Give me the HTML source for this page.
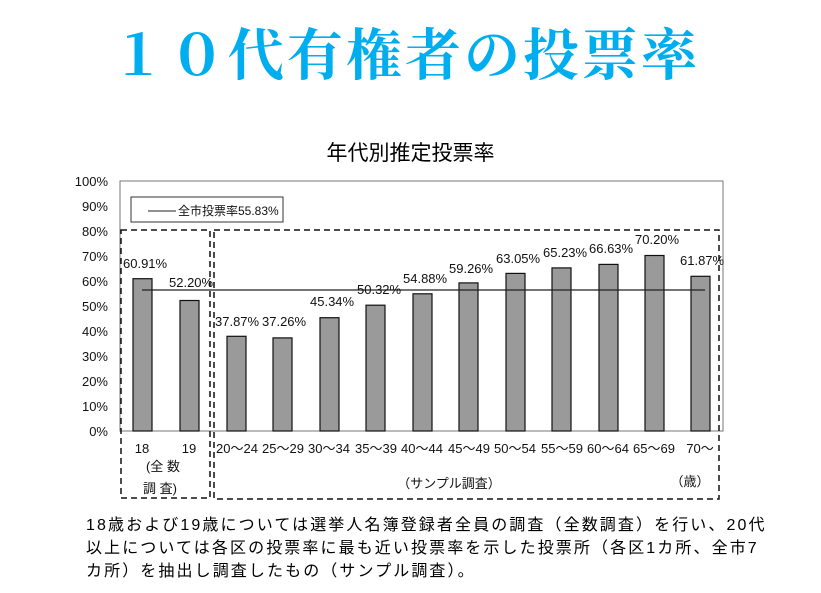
<!DOCTYPE html>
<html><head><meta charset="utf-8"><style>
html,body{margin:0;padding:0;background:#fff;}
body{width:821px;height:593px;position:relative;overflow:hidden;font-family:"Liberation Sans","Noto Sans CJK JP",sans-serif;}
.t{position:absolute;white-space:nowrap;}
</style></head><body>
<div class="t" style="left:110px;top:22px;font-family:'Liberation Serif','Noto Serif CJK SC',serif;font-weight:bold;font-size:56px;line-height:70px;color:#00aeef;letter-spacing:3px;">１０代有権者の投票率</div>
<div class="t" style="left:0;width:821px;top:140px;text-align:center;font-size:21px;line-height:28px;color:#000;">年代別推定投票率</div>
<svg width="821" height="593" style="position:absolute;left:0;top:0" font-family="Liberation Sans, Noto Sans CJK JP, sans-serif">
<rect x="120" y="181" width="603" height="250" fill="none" stroke="#777" stroke-width="1"/>
<g font-size="13" fill="#111" text-anchor="end">
<text x="108" y="436">0%</text><text x="108" y="411">10%</text><text x="108" y="386">20%</text><text x="108" y="361">30%</text><text x="108" y="336">40%</text><text x="108" y="311">50%</text><text x="108" y="286">60%</text><text x="108" y="261">70%</text><text x="108" y="236">80%</text><text x="108" y="211">90%</text><text x="108" y="186">100%</text>
</g>
<rect x="131" y="197" width="152" height="25" fill="#fff" stroke="#333"/>
<line x1="148" y1="211" x2="176" y2="211" stroke="#222"/>
<text x="178" y="215" font-size="12" fill="#111">全市投票率55.83%</text>
<rect x="121" y="230" width="89" height="268" fill="none" stroke="#111" stroke-width="1.5" stroke-dasharray="6,4"/>
<rect x="214" y="230" width="505" height="269" fill="none" stroke="#111" stroke-width="1.5" stroke-dasharray="6,4"/>
<g fill="#9a9a9a" stroke="#111" stroke-width="1.2">
<rect x="133" y="278.7" width="19" height="152.3"/>
<rect x="180" y="300.5" width="19" height="130.5"/>
<rect x="227" y="336.3" width="19" height="94.7"/>
<rect x="273" y="337.9" width="19" height="93.1"/>
<rect x="320" y="317.7" width="19" height="113.3"/>
<rect x="366" y="305.2" width="19" height="125.8"/>
<rect x="413" y="293.8" width="19" height="137.2"/>
<rect x="459" y="282.9" width="19" height="148.1"/>
<rect x="506" y="273.4" width="19" height="157.6"/>
<rect x="552" y="267.9" width="19" height="163.1"/>
<rect x="599" y="264.4" width="19" height="166.6"/>
<rect x="645" y="255.5" width="19" height="175.5"/>
<rect x="691" y="276.3" width="19" height="154.7"/>
</g>
<line x1="142" y1="290" x2="705" y2="290" stroke="#222" stroke-width="1.2"/>
<g font-size="13" fill="#111">
<text x="123" y="268">60.91%</text><text x="169" y="287">52.20%</text>
<text x="215" y="326">37.87%</text><text x="262" y="326">37.26%</text><text x="310" y="306">45.34%</text>
<text x="357" y="294">50.32%</text><text x="403" y="283">54.88%</text><text x="449" y="273">59.26%</text>
<text x="496" y="263">63.05%</text><text x="543" y="257">65.23%</text><text x="589" y="253">66.63%</text>
<text x="635" y="244">70.20%</text><text x="680" y="265">61.87%</text>
</g>
<g font-size="13" fill="#111" text-anchor="middle">
<text x="142" y="453">18</text><text x="189" y="453">19</text>
<text x="237" y="453">20～24</text><text x="283" y="453">25～29</text><text x="329" y="453">30～34</text>
<text x="376" y="453">35～39</text><text x="422" y="453">40～44</text><text x="469" y="453">45～49</text>
<text x="515" y="453">50～54</text><text x="562" y="453">55～59</text><text x="608" y="453">60～64</text>
<text x="654" y="453">65～69</text><text x="700" y="453">70～</text>
<text x="163" y="471">(全 数</text><text x="160" y="493">調 査)</text>
<text x="449" y="488">（サンプル調査）</text><text x="690" y="486">（歳）</text>
</g>
</svg>
<div class="t" style="left:86px;top:514px;font-size:16px;line-height:23px;color:#000;letter-spacing:2.1px;">18歳および19歳については選挙人名簿登録者全員の調査（全数調査）を行い、20代<br>以上については各区の投票率に最も近い投票率を示した投票所（各区1カ所、全市7<br>カ所）を抽出し調査したもの（サンプル調査）。</div>
</body></html>
